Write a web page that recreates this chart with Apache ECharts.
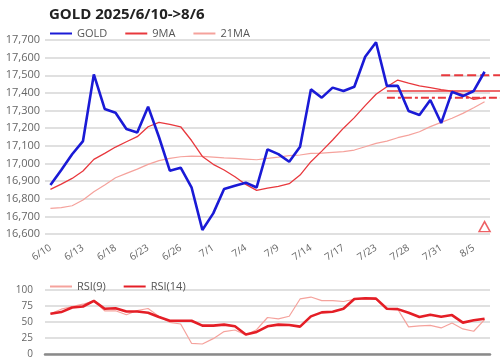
<!DOCTYPE html>
<html><head><meta charset="utf-8">
<script src="https://cdn.jsdelivr.net/npm/echarts@6/dist/echarts.min.js"></script>
<style>html,body{margin:0;padding:0;background:#fff}#c{width:500px;height:361px}</style>
</head><body><div id="c"></div>
<script>
const dates = ['6/10','6/11','6/12','6/13','6/16','6/17','6/18','6/19','6/20','6/23','6/24','6/25','6/26','6/27','6/30','7/1','7/2','7/3','7/4','7/7','7/8','7/9','7/10','7/11','7/14','7/15','7/16','7/17','7/18','7/22','7/23','7/24','7/25','7/28','7/29','7/30','7/31','8/1','8/4','8/5','8/6'];
const gold = [16878,16963,17052,17127,17505,17309,17288,17195,17176,17322,17150,16959,16976,16865,16623,16717,16855,16874,16891,16864,17080,17053,17010,17095,17420,17373,17430,17411,17435,17605,17687,17440,17440,17297,17275,17360,17229,17406,17382,17411,17520];
const ma9 = [16853,16883,16915,16957,17023,17057,17093,17123,17152,17208,17233,17222,17208,17130,17040,16995,16963,16925,16881,16847,16860,16870,16885,16934,17010,17070,17133,17200,17260,17328,17392,17435,17473,17455,17440,17430,17418,17410,17390,17363,17373];
const ma21 = [16745,16750,16760,16793,16840,16878,16919,16944,16968,16995,17016,17029,17038,17042,17040,17036,17032,17029,17025,17021,17029,17036,17044,17048,17057,17059,17063,17067,17076,17095,17114,17127,17146,17161,17180,17209,17233,17256,17284,17316,17350];
const rsi9 = [62.9,70,74.2,77.8,83,67.5,67.5,61.3,68,71.1,58.8,49.5,46.9,16.7,15.6,24,35,37.5,29.7,38,57,55,59,86,89,83.5,83.5,82,85.6,86,85.6,70.6,70,42.3,43.8,44.8,40.7,48.5,39.2,35.6,53.6];
const rsi14 = [62.9,65.5,72.7,74.2,83,70.6,71.6,66.5,66.5,64.4,57.7,52,52,52,44.3,44.3,45.9,43.3,30.4,34.5,43.3,45.9,45.4,42.8,58.8,65,66,70.6,86,87.1,86.6,70.6,70.1,64.4,57.7,61.3,58.2,60.8,49,52.6,55.2];
const levelStart = [36, 31, 31];
const levelValue = [17500, 17411, 17372];
const signalPoints = [[40, 16642]];
const goldTicks = {min: 16600, max: 17700, interval: 100};
const rsiTicks = {min: 0, max: 100, interval: 25};

const font = '"Open Sans", "Noto Sans", sans-serif';
const levelStyles = [
  {color: '#e8383d', width: 2, type: [9, 4]},
  {color: '#e8383d', width: 1.5, type: 'solid'},
  {color: '#e8383d', width: 2, type: [8, 3, 3, 3]}
];
const levelSeries = levelStart.map((s, i) => ({
  type: 'line', xAxisIndex: 2, yAxisIndex: 2, symbol: 'none', silent: true,
  lineStyle: levelStyles[i], data: [[s, levelValue[i]], [41.42, levelValue[i]]], z: 4
}));

const legendCommon = {itemWidth: 22, itemHeight: 10, itemGap: 17,
  itemStyle: {opacity: 0},
  textStyle: {color: '#555', fontSize: 11, fontFamily: font}};

const chart = echarts.init(document.getElementById('c'), null, {renderer: 'canvas'});
chart.setOption({
  animation: false,
  textStyle: {fontFamily: font},
  title: {text: 'GOLD 2025/6/10->8/6', left: 44, top: 2,
    textStyle: {fontFamily: font, fontSize: 15, fontWeight: 'bold', color: '#222'}},
  legend: [
    Object.assign({data: ['GOLD', '9MA', '21MA'], left: 44, top: 23}, legendCommon),
    Object.assign({data: ['RSI(9)', 'RSI(14)'], left: 44, top: 276}, legendCommon)
  ],
  grid: [
    {left: 45, right: 10, top: 40, bottom: 127},
    {left: 45, right: 10, top: 290, bottom: 7},
    {left: 45, right: 0, top: 40, bottom: 127}
  ],
  xAxis: [
    {type: 'category', gridIndex: 0, data: dates, boundaryGap: true,
      axisLine: {show: false}, axisTick: {show: false},
      axisLabel: {interval: 2, rotate: 33, color: '#666', fontSize: 10, margin: 13, fontFamily: font}},
    {type: 'category', gridIndex: 1, data: dates, boundaryGap: true,
      axisLine: {show: true, lineStyle: {color: '#8a8a8a', width: 2.5}}, axisTick: {show: false},
      axisLabel: {show: false}},
    {type: 'value', gridIndex: 2, min: -0.5, max: 41.42, show: false}
  ],
  yAxis: [
    {type: 'value', gridIndex: 0, min: goldTicks.min, max: goldTicks.max, interval: goldTicks.interval,
      axisLine: {show: false}, axisTick: {show: false},
      axisLabel: {color: '#666', fontSize: 11, margin: 5, fontFamily: font,
        formatter: v => v.toLocaleString('en-US')},
      splitLine: {lineStyle: {color: '#d6d6d6', width: 1.5}}},
    {type: 'value', gridIndex: 1, min: rsiTicks.min, max: rsiTicks.max, interval: rsiTicks.interval,
      axisLine: {show: false}, axisTick: {show: false},
      axisLabel: {color: '#666', fontSize: 10, margin: 12, fontFamily: font},
      splitLine: {lineStyle: {color: '#d6d6d6', width: 1.5}}},
    {type: 'value', gridIndex: 2, min: goldTicks.min, max: goldTicks.max, show: false}
  ],
  series: [
    {name: '21MA', type: 'line', data: ma21, symbol: 'none', lineStyle: {color: '#f5a29c', width: 1.2}, itemStyle: {color: '#f5a29c'}, z: 2},
    {name: '9MA', type: 'line', data: ma9, symbol: 'none', lineStyle: {color: '#e8383d', width: 1.3}, itemStyle: {color: '#e8383d'}, z: 3},
    {name: 'GOLD', type: 'line', data: gold, symbol: 'none', lineStyle: {color: '#1a1ad6', width: 2.6}, itemStyle: {color: '#1a1ad6'}, z: 5},
    ...levelSeries,
    {type: 'scatter', data: signalPoints, symbol: 'triangle', symbolSize: [11, 10], silent: true,
      itemStyle: {color: '#fff', borderColor: '#e8383d', borderWidth: 1.5}, z: 6},
    {name: 'RSI(9)', type: 'line', xAxisIndex: 1, yAxisIndex: 1, data: rsi9, symbol: 'none', lineStyle: {color: '#f5a29c', width: 1.2}, itemStyle: {color: '#f5a29c'}},
    {name: 'RSI(14)', type: 'line', xAxisIndex: 1, yAxisIndex: 1, data: rsi14, symbol: 'none', lineStyle: {color: '#e41e26', width: 2.6}, itemStyle: {color: '#e41e26'}}
  ]
});
</script></body></html>
